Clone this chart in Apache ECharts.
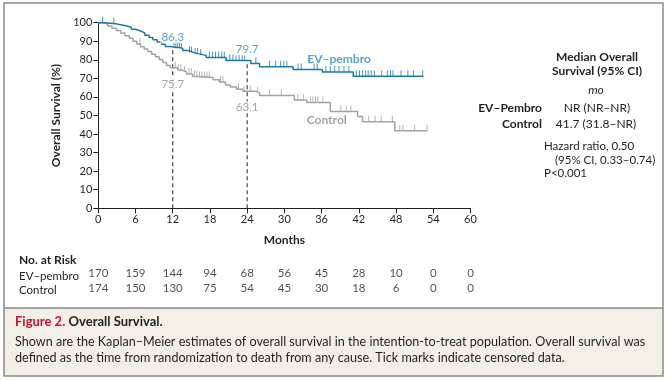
<!DOCTYPE html>
<html><head><meta charset="utf-8">
<script src="https://cdn.jsdelivr.net/npm/echarts@6/dist/echarts.min.js"></script>
<style>html,body{margin:0;padding:0;background:#fff}#c{width:671px;height:380px}</style>
</head><body><div id="c"></div>
<script>
// ---- data ----
const xTicks = [0,6,12,18,24,30,36,42,48,54,60];
const evTimes = [0,1.2,2.8,3.8,4.6,5.3,6,6.8,7.5,8.2,8.8,9.5,10.2,10.8,11.5,13.6,14.6,15.3,16.2,17.4,20.6,24.6,26,31.4,36.1,41.1,52.4];
const evSurv  = [100,99.4,98.8,98.2,97.6,96.5,95.5,94.5,93.2,92,90.8,89.6,88.4,87.2,86.3,85,84,83.2,82.4,81.3,79.7,78,76.3,74.8,73.4,71.2,71.2];
const ctTimes = [0,0.8,1.5,2.2,2.9,3.6,4.3,5,5.6,6.2,6.8,7.4,8,8.6,9.2,9.8,10.4,11,11.6,12.8,13.5,14.2,15.2,16,18.5,19.5,20.5,21.3,22.3,23.3,25.4,26,31.6,33.6,37.4,41.8,42.6,47.8,53];
const ctSurv  = [100,99.3,98.2,97,95.8,94.5,93,91.6,90,88.5,87,85.8,84.5,83,81.6,80.2,78.6,77,75.7,74.5,73.5,72.3,71,70.5,69.3,68,66.5,65.3,64.2,63.1,62.2,60.8,58.4,57,52.2,49.5,46.6,41.8,41.8];
const evCensor = [0.7,2.5,12.2,12.5,12.8,13.1,13.4,14.7,15.0,15.6,16.0,16.5,17.9,18.4,18.9,19.4,19.9,20.3,21.2,21.7,22.2,22.7,23.2,23.6,25.4,27.6,28.6,29.4,29.9,30.4,32.2,32.7,34.8,35.3,36.7,37.4,38.1,38.8,39.6,40.4,41.6,42.1,42.6,43.1,43.5,44.0,44.5,45.7,46.6,47.1,47.5,48.8,49.9,50.8,52.3];
const ctCensor = [6.7,12.4,12.9,13.3,13.9,14.6,15.0,15.5,15.9,16.3,16.7,17.1,17.5,17.9,19.7,20.1,22.6,23.5,24.5,25.7,27.6,29.5,32.2,33.1,34.2,34.6,35.0,35.4,36.2,39.1,40.0,40.7,43.6,44.6,45.6,47.4,48.6,49.1,51.0,53.0];
const landmarkMonths = [12, 24];
const evLandmark = [86.3, 79.7];
const ctLandmark = [75.7, 63.1];
const riskNames = ['EV\u2013pembro', 'Control'];
const riskEV = [170,159,144,94,68,56,45,28,10,0,0];
const riskCT = [174,150,130,75,54,45,30,18,6,0,0];

// ---- helpers ----
function survAt(times, surv, t){ let s = surv[0]; for (let i=0;i<times.length;i++){ if (times[i] <= t) s = surv[i]; } return s; }
const BLUE = '#1b7aa3', BLUE_T = '#2a8cc0', GRAY = '#a3a3a3', GRAY_T = '#8c8c8c', INK = '#231f20';
const FONT = 'Lato';

const G = {left:98.3, top:22.7, width:372.2, height:185.6};

const option = {
  animation:false,
  textStyle:{fontFamily:FONT},
  grid:[
    {left:G.left, top:G.top, width:G.width, height:G.height},
    {left:G.left, top:266, width:G.width, height:30}
  ],
  xAxis:[
    {gridIndex:0, type:'value', min:0, max:60, interval:6,
     name:'Months', nameLocation:'middle', nameGap:26,
     nameTextStyle:{fontFamily:FONT, fontWeight:'bold', fontSize:12, color:INK},
     axisLine:{onZero:false, lineStyle:{color:INK, width:1}},
     axisTick:{length:5, lineStyle:{color:INK}},
     axisLabel:{fontFamily:FONT, fontSize:11, color:INK, margin:6},
     splitLine:{show:false}},
    {gridIndex:1, type:'value', min:0, max:60, interval:6, show:false}
  ],
  yAxis:[
    {gridIndex:0, type:'value', min:0, max:100, interval:10,
     name:'Overall Survival (%)', nameLocation:'middle', nameGap:34, nameRotate:90,
     nameTextStyle:{fontFamily:FONT, fontWeight:'bold', fontSize:12, color:INK},
     axisLine:{show:true, lineStyle:{color:INK, width:1}},
     axisTick:{show:true, length:5, lineStyle:{color:INK}},
     axisLabel:{fontFamily:FONT, fontSize:11, color:INK, margin:6},
     splitLine:{show:false}},
    {gridIndex:1, type:'category', data:riskNames, inverse:true, show:false}
  ],
  series:[
    {type:'line', name:'Control', step:'end', symbol:'none', data:ctTimes.map((t,i)=>[t,ctSurv[i]]),
     lineStyle:{color:GRAY, width:1.5}, z:3},
    {type:'line', name:'EV-pembro', step:'end', symbol:'none', data:evTimes.map((t,i)=>[t,evSurv[i]]),
     lineStyle:{color:BLUE, width:1.5}, z:4},
    {type:'scatter', symbol:'rect', symbolSize:[1,6], symbolOffset:[0,-3], silent:true,
     itemStyle:{color:GRAY}, data:ctCensor.map(t=>[t, survAt(ctTimes, ctSurv, t)]), z:3},
    {type:'scatter', symbol:'rect', symbolSize:[1,6], symbolOffset:[0,-3], silent:true,
     itemStyle:{color:BLUE}, data:evCensor.map(t=>[t, survAt(evTimes, evSurv, t)]), z:4},
    // dashed landmark lines
    ...landmarkMonths.map((m,i)=>({type:'line', symbol:'none', silent:true, data:[[m,0],[m,evLandmark[i]]],
      lineStyle:{color:'#333', width:1.1, type:[4,3]}, z:2})),
    // landmark labels
    {type:'scatter', symbolSize:0, silent:true, z:6, data:landmarkMonths.map((m,i)=>[m, evLandmark[i]]),
     label:{show:true, position:'top', distance:5, formatter:p=>p.value[1].toFixed(1), color:BLUE_T, fontFamily:FONT, fontSize:11.5, backgroundColor:'#fff', padding:[0,1]}},
    {type:'scatter', symbolSize:0, silent:true, z:6, data:landmarkMonths.map((m,i)=>[m, ctLandmark[i]]),
     label:{show:true, position:'bottom', distance:10, formatter:p=>p.value[1].toFixed(1), color:GRAY_T, fontFamily:FONT, fontSize:11.5, backgroundColor:'#fff', padding:[0,1]}},
    // series name labels
    {type:'scatter', symbolSize:0, silent:true, data:[[33.7, 80.3]],
     label:{show:true, position:'right', distance:0, formatter:'EV\u2013pembro', color:BLUE_T, fontFamily:FONT, fontSize:12, fontWeight:'bold'}},
    {type:'scatter', symbolSize:0, silent:true, data:[[33.6, 47.5]],
     label:{show:true, position:'right', distance:0, formatter:'Control', color:GRAY_T, fontFamily:FONT, fontSize:12, fontWeight:'bold'}},
    // numbers at risk
    {type:'scatter', xAxisIndex:1, yAxisIndex:1, symbolSize:0, silent:true,
     data:riskEV.map((v,i)=>[xTicks[i], riskNames[0], v]),
     label:{show:true, position:'inside', formatter:p=>String(p.value[2]), color:INK, fontFamily:FONT, fontSize:11.5}},
    {type:'scatter', xAxisIndex:1, yAxisIndex:1, symbolSize:0, silent:true,
     data:riskCT.map((v,i)=>[xTicks[i], riskNames[1], v]),
     label:{show:true, position:'inside', formatter:p=>String(p.value[2]), color:INK, fontFamily:FONT, fontSize:11.5}}
  ],
  graphic:[
    {type:'rect', shape:{x:4, y:308, width:659, height:68}, style:{fill:'#f2efe7'}, silent:true, z:-1},
    {type:'line', shape:{x1:4, y1:308, x2:663, y2:308}, style:{stroke:'#8a8a8a', lineWidth:1.5}},
    {type:'rect', shape:{x:4, y:3, width:659, height:373}, style:{fill:null, stroke:'#8a8a8a', lineWidth:1.5}},
    // right annotation
    {type:'text', x:597, y:57, style:{text:'Median Overall', font:'bold 12px '+FONT, fill:INK, align:'center', verticalAlign:'middle'}},
    {type:'text', x:597, y:71, style:{text:'Survival (95% CI)', font:'bold 12px '+FONT, fill:INK, align:'center', verticalAlign:'middle'}},
    {type:'text', x:596, y:90.5, style:{text:'mo', font:'italic 12px '+FONT, fill:INK, align:'center', verticalAlign:'middle'}},
    {type:'text', x:542, y:108, style:{text:'EV\u2013Pembro', font:'bold 12px '+FONT, fill:INK, align:'right', verticalAlign:'middle'}},
    {type:'text', x:597, y:108, style:{text:'NR (NR\u2013NR)', font:'12px '+FONT, fill:INK, align:'center', verticalAlign:'middle'}},
    {type:'text', x:542, y:124, style:{text:'Control', font:'bold 12px '+FONT, fill:INK, align:'right', verticalAlign:'middle'}},
    {type:'text', x:596, y:124, style:{text:'41.7 (31.8\u2013NR)', font:'12px '+FONT, fill:INK, align:'center', verticalAlign:'middle'}},
    {type:'text', x:544, y:146.5, style:{text:'Hazard ratio, 0.50', font:'11.5px '+FONT, fill:INK, align:'left', verticalAlign:'middle'}},
    {type:'text', x:555, y:160, style:{text:'(95% CI, 0.33\u20130.74)', font:'11.5px '+FONT, fill:INK, align:'left', verticalAlign:'middle'}},
    {type:'text', x:544, y:173, style:{text:'P<0.001', font:'11.5px '+FONT, fill:INK, align:'left', verticalAlign:'middle'}},
    // at risk titles
    {type:'text', x:19, y:260, style:{text:'No. at Risk', font:'bold 12px '+FONT, fill:INK, align:'left', verticalAlign:'middle'}},
    {type:'text', x:19, y:276, style:{text:riskNames[0], font:'11.5px '+FONT, fill:INK, align:'left', verticalAlign:'middle'}},
    {type:'text', x:19, y:290.5, style:{text:riskNames[1], font:'11.5px '+FONT, fill:INK, align:'left', verticalAlign:'middle'}},
    // caption
    {type:'text', x:15, y:322, style:{rich:{r:{fill:'#c8102e', font:'bold 13px '+FONT}, b:{fill:INK, font:'bold 13px '+FONT}}, text:'{r|Figure 2.} {b|Overall Survival.}', verticalAlign:'middle'}},
    {type:'text', x:15, y:342, style:{text:'Shown are the Kaplan\u2013Meier estimates of overall survival in the intention-to-treat population. Overall survival was', font:'12.6px '+FONT, fill:INK, verticalAlign:'middle'}},
    {type:'text', x:15, y:358, style:{text:'defined as the time from randomization to death from any cause. Tick marks indicate censored data.', font:'12.6px '+FONT, fill:INK, verticalAlign:'middle'}}
  ]
};
const chart = echarts.init(document.getElementById('c'), null, {renderer:'canvas'});
chart.setOption(option);
</script></body></html>
